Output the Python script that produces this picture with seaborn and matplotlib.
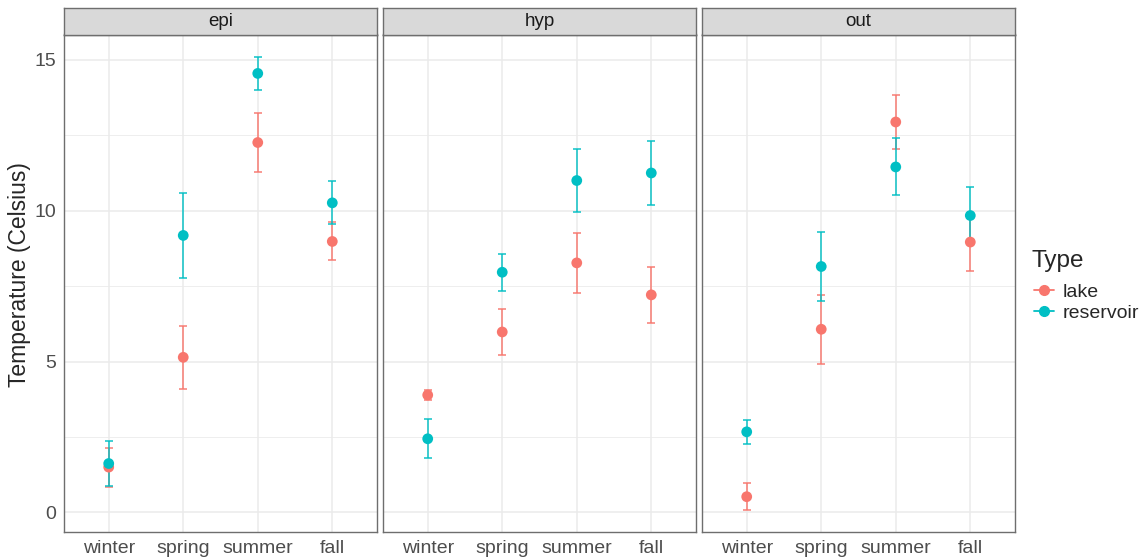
import numpy as np
import pandas as pd
import matplotlib
matplotlib.use("Agg")
import matplotlib.pyplot as plt
import seaborn as sns
from matplotlib.lines import Line2D

sns.set_style("white")
plt.rcParams['font.family'] = ['Liberation Sans', 'DejaVu Sans']

seasons = ['winter', 'spring', 'summer', 'fall']
depths = ['epi', 'hyp', 'out']
types = ['lake', 'reservoir']

# mean temperature per depth, season (winter..fall)
lake_mean = {'epi': [1.50, 5.14, 12.26, 8.98],
             'hyp': [3.89, 5.98, 8.27, 7.21],
             'out': [0.52, 6.07, 12.94, 8.96]}
lake_lo = {'epi': [0.85, 4.09, 11.28, 8.35],
           'hyp': [3.74, 5.22, 7.28, 6.27],
           'out': [0.09, 4.92, 12.05, 7.99]}
lake_hi = {'epi': [2.13, 6.19, 13.25, 9.61],
           'hyp': [4.05, 6.73, 9.26, 8.15],
           'out': [0.96, 7.21, 13.82, 9.93]}
res_mean = {'epi': [1.62, 9.18, 14.55, 10.26],
            'hyp': [2.44, 7.96, 11.00, 11.25],
            'out': [2.67, 8.15, 11.45, 9.84]}
res_lo = {'epi': [0.87, 7.78, 14.00, 9.57],
          'hyp': [1.81, 7.34, 9.96, 10.20],
          'out': [2.28, 7.01, 10.51, 8.91]}
res_hi = {'epi': [2.35, 10.57, 15.09, 10.97],
          'hyp': [3.08, 8.58, 12.05, 12.31],
          'out': [3.07, 9.29, 12.40, 10.78]}

rows = []
for d in depths:
    for i, s in enumerate(seasons):
        rows.append((d, s, 'lake', lake_mean[d][i], lake_lo[d][i], lake_hi[d][i]))
        rows.append((d, s, 'reservoir', res_mean[d][i], res_lo[d][i], res_hi[d][i]))
df = pd.DataFrame(rows, columns=['depth', 'season', 'Type', 'temp', 'lo', 'hi'])
df['x'] = df['season'].map({s: i for i, s in enumerate(seasons)})

palette = {'lake': '#F8766D', 'reservoir': '#00BFC4'}

W, H = 1144, 558
fig = plt.figure(figsize=(W / 100, H / 100), dpi=100)

lefts = [64, 383, 702]
pw = 313
top_px, bot_px = 34.5, 532.3
strip_top = 7.7
border = '#6E6E6E'

for d, lx in zip(depths, lefts):
    ax = fig.add_axes([lx / W, (H - bot_px) / H, pw / W, (bot_px - top_px) / H])
    sub = df[df['depth'] == d]
    for t in types:
        st = sub[sub['Type'] == t]
        ax.errorbar(st['x'], st['temp'], yerr=[st['temp'] - st['lo'], st['hi'] - st['temp']],
                    fmt='none', ecolor=palette[t], elinewidth=1.3, capsize=2.9,
                    capthick=1.3, alpha=0.8, zorder=2)
    sns.scatterplot(data=sub, x='x', y='temp', hue='Type', palette=palette, s=60,
                    edgecolor='none', legend=False, ax=ax, zorder=3)
    ax.set_xlim(-0.6, 3.6)
    ax.set_ylim(-0.66, 15.84)
    ax.set_xticks(range(4))
    ax.set_yticks([0, 5, 10, 15])
    ax.set_yticks([2.5, 7.5, 12.5], minor=True)
    ax.grid(True, which='major', color='#EBEBEB', lw=1.1)
    ax.grid(True, which='minor', axis='y', color='#EBEBEB', lw=0.6)
    ax.set_axisbelow(True)
    ax.set_xticklabels(seasons)
    ax.set_xlabel('')
    ax.set_ylabel('')
    for sp in ax.spines.values():
        sp.set_color(border)
        sp.set_linewidth(1.0)
    ax.tick_params(axis='both', which='major', length=3.5, width=0.8, color='#333333',
                   labelsize=14, labelcolor='#4D4D4D', pad=2)
    ax.tick_params(axis='y', which='minor', length=0)
    if d != 'epi':
        ax.tick_params(axis='y', labelleft=False, length=0)

    sax = fig.add_axes([lx / W, (H - top_px) / H, pw / W, (top_px - strip_top) / H])
    sax.set_facecolor('#D9D9D9')
    sax.set_xticks([])
    sax.set_yticks([])
    for sp in sax.spines.values():
        sp.set_color(border)
        sp.set_linewidth(1.0)
    sax.text(0.5, 0.5, d, ha='center', va='center', fontsize=13.5, color='#1A1A1A',
             transform=sax.transAxes)

fig.text(20 / W, (H - 275) / H, 'Temperature (Celsius)', rotation=90, ha='center',
         va='center', fontsize=16.5)

# legend: title placed separately to match the spacing
fig.text(1032 / W, (H - 261) / H, 'Type', ha='left', va='center', fontsize=17.5)
handles = [Line2D([0], [0], color=palette[t], marker='o', markersize=7, lw=1.3)
           for t in types]
leg = fig.legend(handles, types, loc='upper left',
                 bbox_to_anchor=(1034 / W, (H - 283) / H), frameon=False,
                 fontsize=14, handlelength=1.05, handletextpad=0.4,
                 labelspacing=0.2, borderpad=0, borderaxespad=0)

fig.savefig('out.png', dpi=100)
